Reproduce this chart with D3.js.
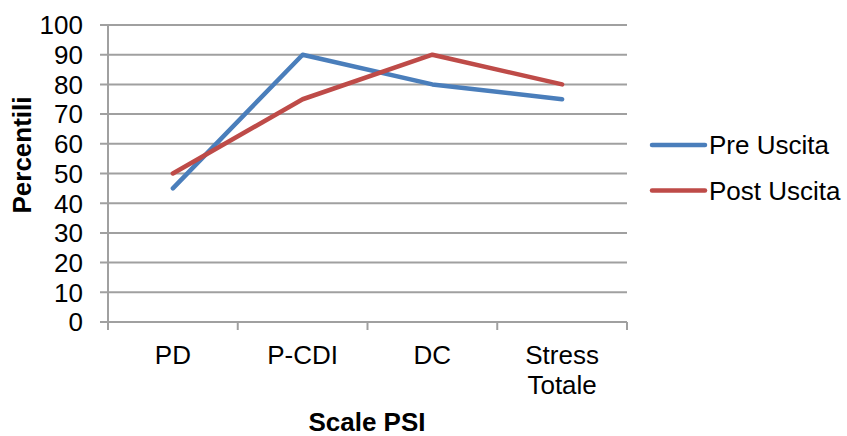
<!DOCTYPE html>
<html><head><meta charset="utf-8">
<script src="https://cdn.jsdelivr.net/npm/d3@7"></script>
<style>body{margin:0;background:#fff}svg{display:block}text{font-family:"Liberation Sans",Arial,sans-serif;fill:#000}</style>
</head><body><svg id="c" width="847" height="436"></svg>
<script>
const categories = [["PD"],["P-CDI"],["DC"],["Stress","Totale"]];
const preUscita = [45, 90, 80, 75];
const postUscita = [50, 75, 90, 80];
const yTicks = [0,10,20,30,40,50,60,70,80,90,100];
const seriesNames = ["Pre Uscita","Post Uscita"];
const colors = ["#4a7ebb","#be4b48"];

const svg = d3.select("#c");
const L=108, R=627, T=25, B=322;
const x = d3.scaleBand().domain(d3.range(categories.length)).range([L,R]);
const y = d3.scaleLinear().domain([0,100]).range([B,T]);
const grid = "#a0a0a0";
const fs = 26;

svg.append("g").selectAll("line").data(yTicks).join("line")
  .attr("x1",L-8).attr("x2",R).attr("y1",d=>y(d)).attr("y2",d=>y(d))
  .attr("stroke",grid).attr("stroke-width",2);
svg.append("line").attr("x1",L).attr("x2",L).attr("y1",T).attr("y2",B+8).attr("stroke",grid).attr("stroke-width",2);
const xt = d3.range(categories.length+1).map(i=>L+i*x.bandwidth());
svg.append("g").selectAll("line").data(xt).join("line")
  .attr("x1",d=>d).attr("x2",d=>d).attr("y1",B).attr("y2",B+8)
  .attr("stroke",grid).attr("stroke-width",2);
svg.append("g").selectAll("text").data(yTicks).join("text")
  .attr("x",83).attr("y",d=>y(d)).attr("dy","0.36em").attr("text-anchor","end")
  .attr("font-size",fs).text(d=>d);
const xl = svg.append("g").selectAll("text").data(categories).join("text")
  .attr("x",(d,i)=>x(i)+x.bandwidth()/2).attr("y",364).attr("text-anchor","middle").attr("font-size",fs);
xl.selectAll("tspan").data(d=>d).join("tspan")
  .attr("x",function(){return this.parentNode.getAttribute("x");})
  .attr("dy",(d,i)=>i?"1.15em":0).text(d=>d);
const line = d3.line().x((d,i)=>x(i)+x.bandwidth()/2).y(d=>y(d));
[preUscita, postUscita].forEach((s,k)=>{
  svg.append("path").attr("d",line(s)).attr("fill","none").attr("stroke",colors[k])
    .attr("stroke-width",4.5).attr("stroke-linejoin","round").attr("stroke-linecap","round");
});
svg.append("text").attr("x",367).attr("y",431).attr("text-anchor","middle").attr("font-weight","bold").attr("font-size",fs).text("Scale PSI");
svg.append("text").attr("transform","translate(31,155) rotate(-90)").attr("text-anchor","middle").attr("font-weight","bold").attr("font-size",fs).text("Percentili");
const lg = svg.append("g").selectAll("g").data(seriesNames).join("g")
  .attr("transform",(d,i)=>`translate(0,${145+i*45.5})`);
lg.append("line").attr("x1",652).attr("x2",705).attr("y1",0).attr("y2",0)
  .attr("stroke",(d,i)=>colors[i]).attr("stroke-width",4.5).attr("stroke-linecap","round");
lg.append("text").attr("x",709).attr("y",0).attr("dy","0.36em").attr("font-size",fs).text(d=>d);
</script></body></html>
